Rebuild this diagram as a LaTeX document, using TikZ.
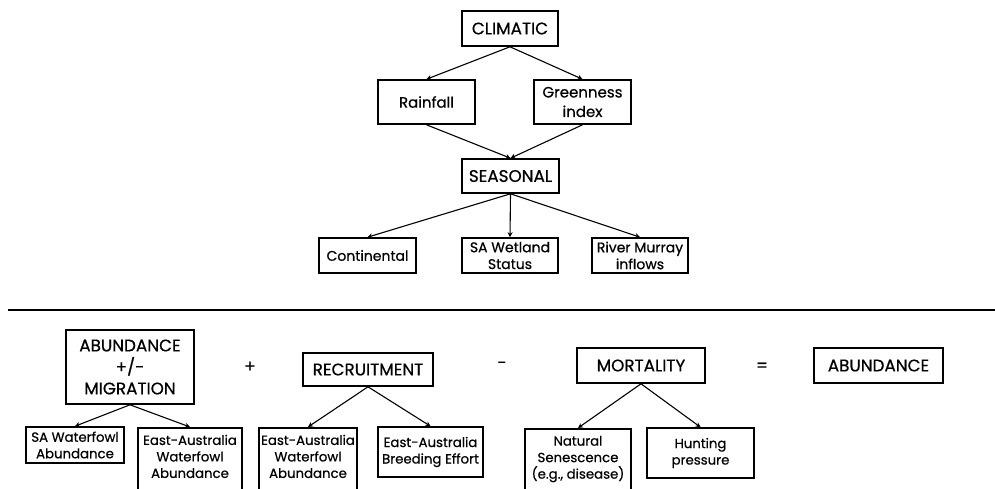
\documentclass[tikz,border=0pt]{standalone}
\usepackage{fontspec}
\setmainfont{Poppins}[FakeBold=0.6]
\usetikzlibrary{arrows.meta}
\begin{document}
\begin{tikzpicture}[x=1pt,y=-1pt,
 box/.style={draw, line width=1.6pt, inner sep=0pt, align=center},
 big/.style={font=\fontsize{16.8}{21.5}\selectfont},
 mid/.style={font=\fontsize{15}{19.5}\selectfont},
 sml/.style={font=\fontsize{14}{16.8}\selectfont},
 tny/.style={font=\fontsize{13.3}{16.5}\selectfont},
 opn/.style={box, tny, anchor=north, inner ysep=7pt},
 arr/.style={-{Stealth[length=5pt,width=5pt]}, line width=1.1pt},
 sepline/.style={line width=1.2pt},
]
\useasboundingbox (0,0) rectangle (995,489);
% upper part
\node[box,big,minimum width=96,minimum height=35] (climatic) at (510,28.5) {CLIMATIC};
\node[box,mid,minimum width=97,minimum height=44] (rain) at (426.5,102) {Rainfall};
\node[box,mid,minimum width=97,minimum height=44] (green) at (582.5,102) {Greenness\\index};
\node[box,big,minimum width=97,minimum height=34] (seasonal) at (510.5,176) {SEASONAL};
\node[box,sml,minimum width=97,minimum height=35] (cont) at (367.5,255.5) {Continental};
\node[box,sml,minimum width=96,minimum height=35] (wet) at (510,255.5) {SA Wetland\\Status};
\node[box,sml,minimum width=96,minimum height=35] (murray) at (640,255.5) {River Murray\\inflows};
\draw[arr] (climatic.south) -- (rain.north);
\draw[arr] (climatic.south) -- (green.north);
\draw[arr] (rain.south) -- (seasonal.north);
\draw[arr] (green.south) -- (seasonal.north);
\draw[arr] (seasonal.south) -- (cont.north);
\draw[arr] (seasonal.south) -- (wet.north);
\draw[arr] (seasonal.south) -- (murray.north);
% separator
\coordinate (sepL) at (8,310);
\coordinate (sepR) at (995,310);
\draw[sepline] (sepL) -- (sepR);
% lower part
\node[box,big,minimum width=128,minimum height=74] (abmig) at (130,367) {ABUNDANCE\\+/-\\MIGRATION};
\node[big] (plus) at (250,367) {+};
\node[box,big,minimum width=130,minimum height=33] (recr) at (368,369.5) {RECRUITMENT};
\node[big] (minus) at (502,365) {-};
\node[box,big,minimum width=128,minimum height=35] (mort) at (641,365.5) {MORTALITY};
\node[big] (eq) at (762,367) {=};
\node[box,big,minimum width=129,minimum height=35] (abund) at (878.5,365.5) {ABUNDANCE};
\node[box,tny,minimum width=98,minimum height=36] (sawf) at (75,445) {SA Waterfowl\\Abundance};
\node[opn,minimum width=104] (ea1) at (190,427) {East-Australia\\Waterfowl\\Abundance\\[14pt]~};
\node[opn,minimum width=98] (ea2) at (308,427) {East-Australia\\Waterfowl\\Abundance\\[14pt]~};
\node[box,tny,minimum width=105,minimum height=50] (breed) at (430.5,452) {East-Australia\\Breeding Effort};
\node[opn,minimum width=106] (nat) at (578,428) {Natural\\Senescence\\(e.g., disease)\\[14pt]~};
\node[box,tny,minimum width=107,minimum height=50] (hunt) at (700.5,453) {Hunting\\pressure};
\draw[arr] (abmig.south) -- (sawf.north);
\draw[arr] (abmig.south) -- (ea1.north);
\draw[arr] (recr.south) -- (ea2.north);
\draw[arr] (recr.south) -- (breed.north);
\draw[arr] (mort.south) -- (nat.north);
\draw[arr] (mort.south) -- (hunt.north);
\end{tikzpicture}
\end{document}
